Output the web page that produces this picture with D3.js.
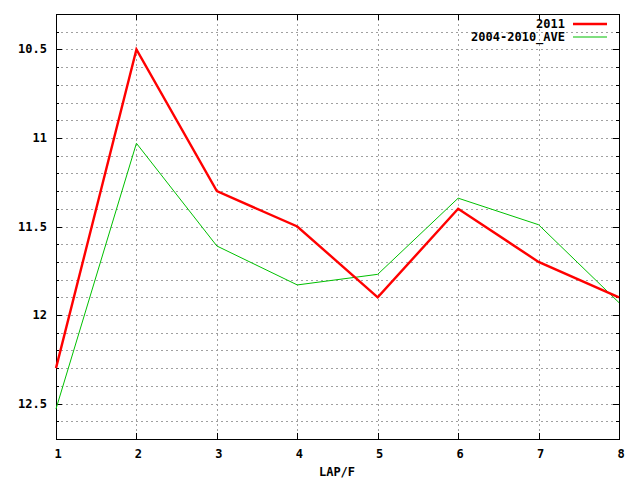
<!DOCTYPE html>
<html><head><meta charset="utf-8">
<script src="https://cdn.jsdelivr.net/npm/d3@7"></script>
<style>body{margin:0;background:#fff}svg{display:block}</style>
</head><body>
<svg id="c" width="640" height="480"></svg>
<script>
const laps = [1,2,3,4,5,6,7,8];
const s2011 = [12.3,10.5,11.3,11.5,11.9,11.4,11.7,11.9];
const sAve = [12.53,11.03,11.61,11.83,11.77,11.34,11.49,11.93];
const yTickLabels = [10.5,11,11.5,12,12.5];
const seriesNames = ["2011","2004-2010_AVE"];
const seriesColors = ["#ff0000","#00c000"];

const svg = d3.select("#c");
const L=56, R=619, T=14, B=439;
const x = d3.scaleLinear().domain([1,8]).range([L,R]);
const y = d3.scaleLinear().domain([10.3,12.7]).range([T,B]);
const font = "'DejaVu Sans Mono', monospace";

const minor = d3.range(10.4,12.65,0.1).map(v=>+v.toFixed(1));
// grid
svg.append("g").selectAll("line").data(minor).join("line")
  .attr("x1",L).attr("x2",R).attr("y1",d=>Math.round(y(d))+0.5).attr("y2",d=>Math.round(y(d))+0.5)
  .attr("stroke","#a0a0a0").attr("stroke-dasharray","2,3");
svg.append("g").selectAll("line").data(laps.slice(1,-1)).join("line")
  .attr("y1",T).attr("y2",B).attr("x1",d=>Math.round(x(d))+0.5).attr("x2",d=>Math.round(x(d))+0.5)
  .attr("stroke","#a0a0a0").attr("stroke-dasharray","2,3");

// ticks
const isMajor = d=>yTickLabels.some(v=>Math.abs(v-d)<1e-6);
const tg = svg.append("g").attr("stroke","#000");
minor.forEach(d=>{
  const yy=Math.round(y(d))+0.5, len=isMajor(d)?6:3;
  tg.append("line").attr("x1",L).attr("x2",L+len).attr("y1",yy).attr("y2",yy);
  tg.append("line").attr("x1",R-len).attr("x2",R).attr("y1",yy).attr("y2",yy);
});
laps.forEach(d=>{
  const xx=Math.round(x(d))+0.5;
  tg.append("line").attr("x1",xx).attr("x2",xx).attr("y1",B).attr("y2",B-6);
  tg.append("line").attr("x1",xx).attr("x2",xx).attr("y1",T).attr("y2",T+6);
});

// border
svg.append("rect").attr("x",L+0.5).attr("y",T+0.5).attr("width",R-L).attr("height",B-T)
  .attr("fill","none").attr("stroke","#000");

// labels
svg.append("g").selectAll("text").data(yTickLabels).join("text")
  .attr("x",47).attr("y",d=>y(d)+4).attr("text-anchor","end")
  .attr("font-family",font).attr("font-weight","bold").attr("font-size",12).text(d=>d);
svg.append("g").selectAll("text").data(laps).join("text")
  .attr("x",d=>x(d)+2).attr("y",458).attr("text-anchor","middle")
  .attr("font-family",font).attr("font-weight","bold").attr("font-size",12).text(d=>d);
svg.append("text").attr("x",337).attr("y",476).attr("text-anchor","middle")
  .attr("font-family",font).attr("font-weight","bold").attr("font-size",12).text("LAP/F");

// lines
const line = d3.line().x(d=>x(d[0])).y(d=>y(d[1]));
svg.append("path").datum(laps.map((l,i)=>[l,sAve[i]])).attr("d",line)
  .attr("fill","none").attr("stroke",seriesColors[1]).attr("stroke-width",1);
svg.append("path").datum(laps.map((l,i)=>[l,s2011[i]])).attr("d",line)
  .attr("fill","none").attr("stroke",seriesColors[0]).attr("stroke-width",2.4);

// legend
seriesNames.forEach((n,i)=>{
  const yy = 24 + i*13;
  svg.append("text").attr("x",565).attr("y",yy+4).attr("text-anchor","end")
    .attr("font-family",font).attr("font-weight","bold").attr("font-size",12).text(n);
  svg.append("line").attr("x1",573).attr("x2",607).attr("y1",yy).attr("y2",yy)
    .attr("stroke",seriesColors[i]).attr("stroke-width",i===0?2.4:1);
});
</script>
</body></html>
